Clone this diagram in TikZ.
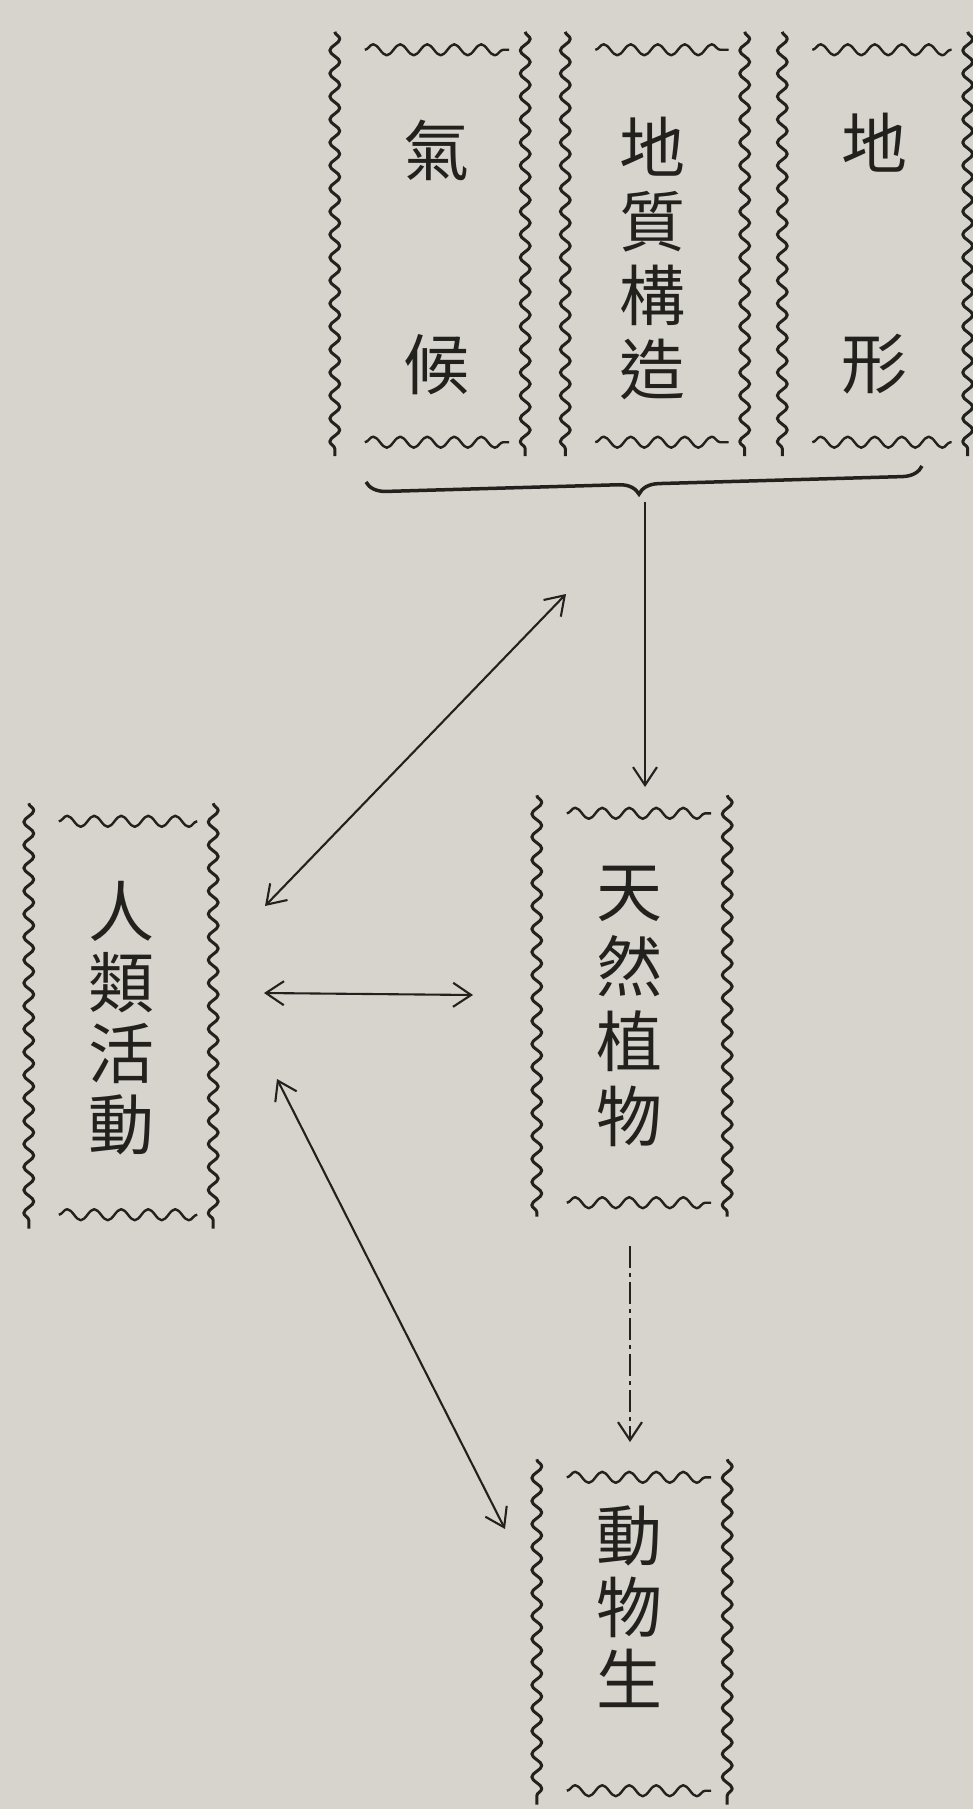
\documentclass[tikz,border=0pt]{standalone}
\usepackage{fontspec}
\newfontfamily\cjk{Noto Sans CJK TC}
\usetikzlibrary{decorations.pathmorphing,decorations.pathreplacing,arrows.meta}
\definecolor{paper}{RGB}{214,212,204}
\definecolor{ink}{RGB}{35,33,30}
\newcommand\wavyframe[1]{%
  \draw[wavev] (#1.north west) -- (#1.south west);
  \draw[wavev] (#1.north east) -- (#1.south east);
  \draw[waveh] ([xshift=30pt,yshift=-18pt]#1.north west) -- ([xshift=-16pt,yshift=-18pt]#1.north east);
  \draw[waveh] ([xshift=30pt,yshift=14pt]#1.south west) -- ([xshift=-16pt,yshift=14pt]#1.south east);
}
\begin{document}
\begin{tikzpicture}[x=1pt,y=-1pt,
  frame/.style={rectangle, inner sep=0pt, draw=none},
  label/.style={inner sep=0pt, align=center, text=ink},
  wavev/.style={draw=ink, line width=3pt, line join=round, decorate, decoration={snake, segment length=23pt, amplitude=5pt}},
  waveh/.style={draw=ink, line width=2.4pt, line join=round, decorate, decoration={snake, segment length=27pt, amplitude=5.5pt}},
  barb/.tip={Straight Barb[length=18pt,width=24pt]},
  arr/.style={draw=ink, line width=2.1pt, -barb},
  darr/.style={draw=ink, line width=2.1pt, barb-barb}]
\fill[paper] (0,0) rectangle (973,1809);
\useasboundingbox (0,0) rectangle (973,1809);

% boxes
\node[frame, minimum width=190pt, minimum height=424pt] (qh) at (430,244) {};
\node[frame, minimum width=179pt, minimum height=424pt] (dz) at (655,244) {};
\node[frame, minimum width=185pt, minimum height=424pt] (dx) at (875,244) {};
\node[frame, minimum width=190pt, minimum height=421pt] (tr) at (632,1006) {};
\node[frame, minimum width=184pt, minimum height=425pt] (rl) at (121,1016) {};
\node[frame, minimum width=190pt, minimum height=345pt] (dw) at (632,1632) {};

\wavyframe{qh}
\wavyframe{dz}
\wavyframe{dx}
\wavyframe{tr}
\wavyframe{rl}
\wavyframe{dw}

% texts
\node[label, font=\cjk\fontsize{66}{214}\selectfont] (qht) at (436,257) {氣\\候};
\node[label, font=\cjk\fontsize{66}{74}\selectfont] (dzt) at (652,258) {地\\質\\構\\造};
\node[label, font=\cjk\fontsize{66}{220}\selectfont] (dxt) at (874,254) {地\\形};
\node[label, font=\cjk\fontsize{66}{75}\selectfont] (trt) at (629,1006) {天\\然\\植\\物};
\node[label, font=\cjk\fontsize{66}{71}\selectfont] (rlt) at (121,1018) {人\\類\\活\\動};
\node[label, font=\cjk\fontsize{66}{72}\selectfont] (dwt) at (629,1607) {動\\物\\生};

% brace
\coordinate (brL) at (366,482);
\coordinate (brR) at (922,466);
\draw[ink, line width=3.5pt, decorate, decoration={brace, mirror, amplitude=20pt, aspect=0.49}] (brL) -- (brR);

% connector end points
\coordinate (b1) at (645,502);
\coordinate (b2) at (645,787);
\coordinate (d1a) at (265,906);
\coordinate (d1b) at (566,594);
\coordinate (h1a) at (264,993);
\coordinate (h1b) at (473,995);
\coordinate (d2a) at (277,1079);
\coordinate (d2b) at (505,1529);
\coordinate (v1) at (630,1246);
\coordinate (v2) at (630,1442);

\draw[arr] (b1) -- (b2);
\draw[darr] (d1a) -- (d1b);
\draw[darr] (h1a) -- (h1b);
\draw[darr] (d2a) -- (d2b);
\draw[arr, dash pattern=on 22pt off 5pt on 4pt off 5pt] (v1) -- (v2);
\end{tikzpicture}
\end{document}
